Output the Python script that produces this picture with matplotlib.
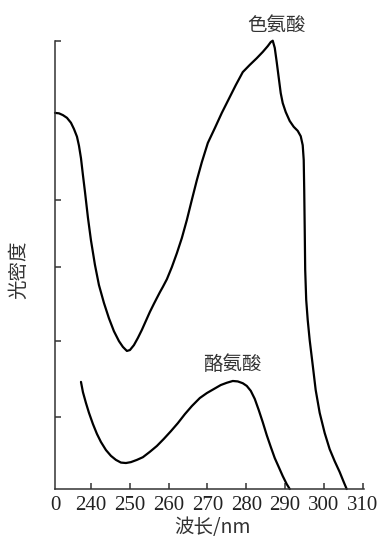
import matplotlib
matplotlib.use('Agg')
import matplotlib.pyplot as plt

plt.rcParams['font.family'] = ['Liberation Serif', 'Noto Sans CJK SC']

# 色氨酸 (tryptophan) 吸收曲线
trp_nm = [230.74, 231.77, 232.79, 233.82, 234.85, 235.63, 236.40, 236.91, 237.43, 237.94,
          238.46, 239.23, 240.00, 241.03, 242.06, 243.35, 244.63, 245.92, 247.21, 248.23,
          249.26, 250.04, 251.07, 252.09, 253.12, 254.15, 255.18, 256.21, 256.98, 257.76,
          258.53, 259.56, 260.84, 262.13, 263.42, 264.70, 265.99, 267.28, 268.56, 270.11,
          271.91, 273.71, 275.51, 277.31, 279.11, 280.91, 282.71, 284.26, 285.55, 286.32,
          286.83, 287.35, 287.86, 288.38, 288.89, 289.40, 290.17, 291.20, 292.23, 293.26,
          294.04, 294.55, 294.81, 294.94, 295.07, 295.19, 295.45, 295.84, 296.35, 297.12,
          297.89, 298.92, 300.21, 301.49, 302.79, 304.07, 305.10, 305.88]
trp_od = [0.839, 0.838, 0.834, 0.828, 0.817, 0.803, 0.786, 0.766, 0.738, 0.700,
          0.663, 0.605, 0.555, 0.500, 0.455, 0.415, 0.381, 0.352, 0.330, 0.317,
          0.308, 0.310, 0.321, 0.337, 0.355, 0.375, 0.395, 0.413, 0.426, 0.439,
          0.451, 0.468, 0.495, 0.526, 0.560, 0.600, 0.645, 0.689, 0.729, 0.772,
          0.805, 0.839, 0.870, 0.901, 0.930, 0.946, 0.961, 0.975, 0.988, 0.997,
          1.000, 0.984, 0.952, 0.917, 0.883, 0.861, 0.841, 0.821, 0.808, 0.799,
          0.787, 0.767, 0.734, 0.667, 0.578, 0.489, 0.422, 0.377, 0.332, 0.277,
          0.221, 0.170, 0.125, 0.089, 0.062, 0.038, 0.016, 0.0]

# 酪氨酸 (tyrosine) 吸收曲线
tyr_nm = [237.43, 237.94, 238.71, 239.49, 240.51, 241.54, 242.57, 243.86, 245.15, 246.43,
          247.72, 249.01, 250.29, 251.84, 253.38, 255.18, 256.98, 258.79, 260.59, 262.39,
          264.19, 265.99, 268.05, 269.85, 271.65, 273.45, 274.99, 276.54, 277.83, 279.11,
          280.14, 281.17, 282.20, 283.23, 284.26, 285.29, 286.32, 287.35, 288.38, 289.40,
          290.43, 291.21]
tyr_od = [0.239, 0.216, 0.192, 0.170, 0.145, 0.123, 0.105, 0.087, 0.074, 0.065,
          0.059, 0.058, 0.060, 0.065, 0.071, 0.083, 0.096, 0.112, 0.129, 0.147,
          0.167, 0.185, 0.203, 0.214, 0.223, 0.232, 0.237, 0.241, 0.240, 0.236,
          0.230, 0.219, 0.201, 0.176, 0.149, 0.120, 0.094, 0.069, 0.049, 0.029,
          0.011, 0.0]

x_ticks = [230.74, 240, 250, 260, 270, 280, 290, 300, 310]
x_labels = ['0', '240', '250', '260', '270', '280', '290', '300', '310']
y_ticks = [0.161, 0.330, 0.495, 0.645, 1.0]

fig = plt.figure(figsize=(3.83, 5.40), dpi=100)
ax = fig.add_axes([0.1436, 0.0944, 0.8064, 0.8302])

ax.plot(trp_nm, trp_od, color='black', lw=1.6, clip_on=False,
        solid_capstyle='round', solid_joinstyle='round')
ax.plot(tyr_nm, tyr_od, color='black', lw=1.6, clip_on=False,
        solid_capstyle='round', solid_joinstyle='round')

ax.set_xlim(230.74, 310.3)
ax.set_ylim(0, 1.0)

for s in ['top', 'right']:
    ax.spines[s].set_visible(False)
for s in ['left', 'bottom']:
    ax.spines[s].set_linewidth(1.1)
    ax.spines[s].set_color('#333333')

ax.set_xticks(x_ticks)
ax.set_xticklabels(x_labels, fontsize=15, color='#222222')
ax.set_yticks(y_ticks)
ax.set_yticklabels([])
ax.tick_params(axis='both', direction='in', length=4.5, width=1.1, color='#333333', pad=5)
ax.xaxis.get_major_ticks()[0].tick1line.set_visible(False)

ax.text(287.9, 1.035, '色氨酸', fontsize=14, ha='center', va='center',
        family=['Noto Sans CJK SC'], color='#333333')
ax.text(276.5, 0.277, '酪氨酸', fontsize=14, ha='center', va='center',
        family=['Noto Sans CJK SC'], color='#333333')

ax.set_xlabel('波长/nm', fontsize=14, family=['Noto Sans CJK SC', 'DejaVu Sans'], color='#333333')
ax.xaxis.set_label_coords(0.511, -0.063)
ax.set_ylabel('光密度', fontsize=14, family=['Noto Sans CJK SC'], color='#333333')
ax.yaxis.set_label_coords(-0.085, 0.49)

fig.savefig('out.png', dpi=100)
